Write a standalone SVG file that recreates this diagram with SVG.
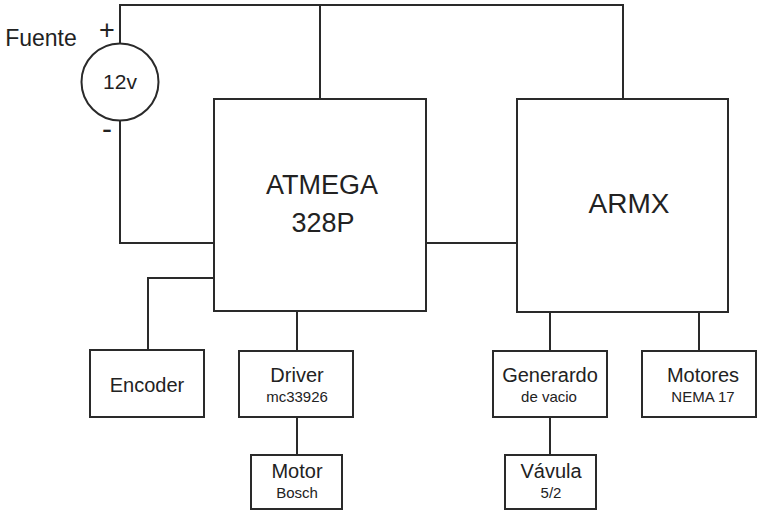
<svg xmlns="http://www.w3.org/2000/svg" width="757" height="513" viewBox="0 0 757 513">
<style>
.b{fill:#fff;stroke:#2a2a2a;stroke-width:2}
.w{fill:none;stroke:#2a2a2a;stroke-width:2}
text{font-family:"Liberation Sans",Arial,sans-serif;fill:#222;text-anchor:middle}
.l{font-size:20px}
.s{font-size:15px}
.big{font-size:27px}
</style>
<rect width="757" height="513" fill="#fff"/>
<g id="connectors">
<polyline class="w" points="120,43 120,5 623,5 623,99"/>
<line class="w" x1="320" y1="5" x2="320" y2="99"/>
<polyline class="w" points="120,120 120,243 214,243"/>
<line class="w" x1="426" y1="243" x2="517" y2="243"/>
<polyline class="w" points="214,278 148,278 148,350"/>
<line class="w" x1="297" y1="311" x2="297" y2="351"/>
<line class="w" x1="297" y1="417" x2="297" y2="455"/>
<line class="w" x1="550" y1="312" x2="550" y2="351"/>
<line class="w" x1="550" y1="417" x2="550" y2="455"/>
<line class="w" x1="699" y1="312" x2="699" y2="351"/>
</g>
<g id="fuente">
<circle class="b" cx="120" cy="82" r="38.5"/>
<text x="120" y="89" style="font-size:21px">12v</text>
<text x="41" y="46" style="font-size:23px">Fuente</text>
<text x="107" y="39" style="font-size:27px;font-weight:300">+</text>
<text x="107" y="139" style="font-size:30px">-</text>
</g>
<g id="atmega">
<rect class="b" x="214" y="99" width="212" height="212"/>
<text class="big" x="322" y="194">ATMEGA</text>
<text class="big" x="323" y="232">328P</text>
</g>
<g id="armx">
<rect class="b" x="517" y="99" width="211" height="213"/>
<text class="big" x="629" y="213" style="font-size:28px">ARMX</text>
</g>
<g id="encoder">
<rect class="b" x="90" y="350" width="114" height="67"/>
<text class="l" x="147" y="392">Encoder</text>
</g>
<g id="driver">
<rect class="b" x="239" y="351" width="114" height="66"/>
<text class="l" x="297" y="382">Driver</text>
<text class="s" x="297" y="402">mc33926</text>
</g>
<g id="motor">
<rect class="b" x="251" y="455" width="91" height="54"/>
<text class="l" x="297" y="478">Motor</text>
<text class="s" x="297" y="498">Bosch</text>
</g>
<g id="generardo">
<rect class="b" x="493" y="351" width="114" height="66"/>
<text class="l" x="550" y="382">Generardo</text>
<text class="s" x="549" y="402">de vacio</text>
</g>
<g id="motores">
<rect class="b" x="642" y="351" width="114" height="66"/>
<text class="l" x="703" y="382">Motores</text>
<text class="s" x="703" y="402">NEMA 17</text>
</g>
<g id="valvula">
<rect class="b" x="505" y="455" width="91" height="54"/>
<text class="l" x="551" y="478">Vávula</text>
<text class="s" x="551" y="498">5/2</text>
</g>
</svg>
